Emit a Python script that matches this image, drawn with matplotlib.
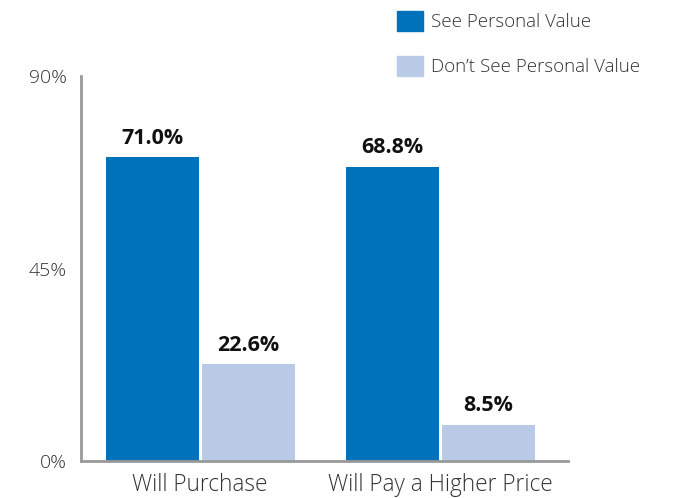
import matplotlib.pyplot as plt
import numpy as np
from matplotlib.patches import Patch

categories = ["Will Purchase", "Will Pay a Higher Price"]
see_value = [71.0, 68.8]
dont_see_value = [22.6, 8.5]
series_labels = ["See Personal Value", "Don\u2019t See Personal Value"]
y_ticks = [0, 45, 90]

blue = "#0072BB"
light = "#B8CAE6"

plt.rcParams["font.family"] = ["Open Sans", "DejaVu Sans"]

fig = plt.figure(figsize=(6.81, 4.98), dpi=100)
ax = fig.add_axes([0.119, 0.0743, 0.715, 0.773])

x = np.arange(len(categories))
w = 0.3875
b1 = ax.bar(x - 0.2, see_value, w, color=blue)
b2 = ax.bar(x + 0.2, dont_see_value, w, color=light)

for bars, vals in [(b1, see_value), (b2, dont_see_value)]:
    for bar, v in zip(bars, vals):
        ax.text(bar.get_x() + bar.get_width() / 2, v + 2.0, f"{v:.1f}%",
                ha="center", va="bottom", fontsize=15.5, fontweight="bold",
                color="#111111")

ax.set_xlim(-0.496, 1.533)
ax.set_ylim(0, 90)
ax.set_yticks(y_ticks)
ax.set_yticklabels([f"{t}%" for t in y_ticks], fontsize=14, color="#333333",
                   fontweight="light")
ax.set_xticks(x)
ax.set_xticklabels(categories, fontsize=16.3, color="#333333",
                   fontweight="light")
ax.tick_params(length=0, pad=9)
ax.tick_params(axis="y", pad=10)

for s in ["top", "right"]:
    ax.spines[s].set_visible(False)
for s in ["left", "bottom"]:
    ax.spines[s].set_color("#999999")
    ax.spines[s].set_linewidth(2)

handles = [Patch(color=blue), Patch(color=light)]
fig.legend(handles, series_labels, loc="upper left",
           bbox_to_anchor=(0.569, 0.997), frameon=False,
           prop={"weight": "light", "size": 13.5},
           handlelength=1.4, handleheight=1.3, labelspacing=1.3,
           handletextpad=0.4, borderpad=0.2, borderaxespad=0.3,
           labelcolor="#333333")

fig.savefig("out.png", dpi=100)
